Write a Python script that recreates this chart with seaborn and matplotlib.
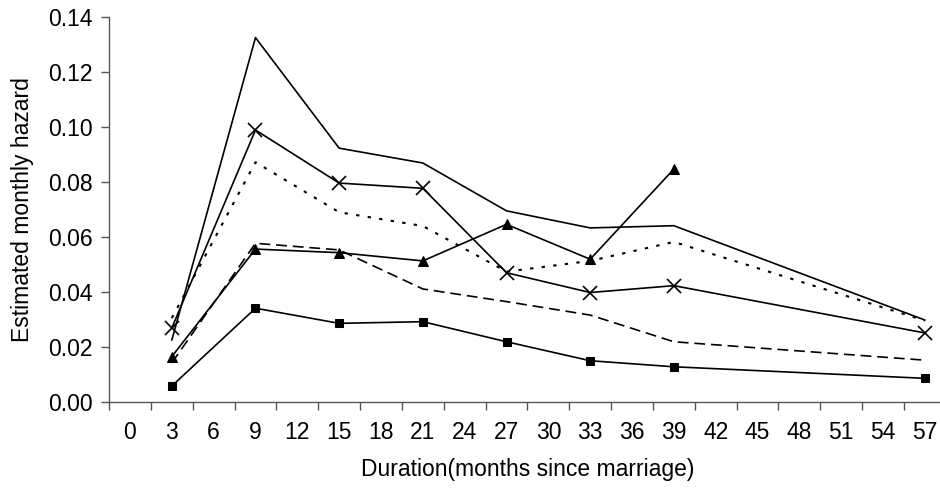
import matplotlib
matplotlib.use("Agg")
import matplotlib.pyplot as plt
import numpy as np
import pandas as pd
import seaborn as sns

# Duration (months since marriage) at which hazards were estimated
months = [3, 9, 15, 21, 27, 33, 39, 57]
months_short = [3, 9, 15, 21, 27, 33, 39]

# Estimated monthly hazard for each group
hazard_plain = [0.0225, 0.1325, 0.0923, 0.0869, 0.0695, 0.0633, 0.0641, 0.0298]
hazard_cross = [0.0269, 0.0989, 0.0796, 0.0777, 0.0470, 0.0398, 0.0423, 0.0251]
hazard_dotted = [0.0305, 0.0872, 0.0690, 0.0640, 0.0474, 0.0513, 0.0582, 0.0296]
hazard_triangle = [0.0165, 0.0556, 0.0543, 0.0513, 0.0646, 0.0519, 0.0847]
hazard_dashed = [0.0142, 0.0577, 0.0553, 0.0411, 0.0365, 0.0316, 0.0219, 0.0152]
hazard_square = [0.0058, 0.0341, 0.0286, 0.0292, 0.0219, 0.0150, 0.0128, 0.0086]

x_ticks = list(range(0, 58, 3))
y_ticks = [0.00, 0.02, 0.04, 0.06, 0.08, 0.10, 0.12, 0.14]

sns.set_theme(style="white")
plt.rcParams["font.family"] = ["Liberation Sans", "DejaVu Sans"]

fig = plt.figure(figsize=(9.40, 4.91), dpi=100)
ax = fig.add_axes([0.1160, 0.1813, 0.8902, 0.7841])

lw = 1.2
series = [
    (months, hazard_plain, dict(linestyle="-")),
    (months, hazard_cross, dict(linestyle="-", marker="x", markersize=10, markeredgewidth=1.2)),
    (months, hazard_dotted, dict(linestyle=(0, (1.6, 4.0)), linewidth=1.5)),
    (months_short, hazard_triangle, dict(linestyle="-", marker="^", markersize=6.5)),
    (months, hazard_dashed, dict(linestyle=(0, (6.5, 3.5)))),
    (months, hazard_square, dict(linestyle="-", marker="s", markersize=5.5)),
]
for xs, ys, style in series:
    df = pd.DataFrame({"month": xs, "hazard": ys})
    kws = dict(linewidth=lw)
    kws.update(style)
    sns.lineplot(data=df, x="month", y="hazard", ax=ax, color="black",
                 markeredgecolor="black", **kws)

ax.set_xlim(-1.5, 58.5)
ax.set_ylim(0, 0.14)
ax.set_xticks(x_ticks)
ax.set_xticklabels([str(t) for t in x_ticks])
ax.set_xticks(np.arange(-1.5, 57, 3), minor=True)
ax.set_yticks(y_ticks)
ax.set_yticklabels([f"{v:.2f}" for v in y_ticks])

ax.tick_params(axis="x", which="major", length=0, pad=14, labelsize=16.5, colors="black")
ax.tick_params(axis="x", which="minor", length=6, width=1, color="#555555", direction="out", bottom=True)
ax.tick_params(axis="y", length=6, width=1, color="#555555", direction="out", left=True,
               pad=6, labelsize=16.5, labelcolor="black")

for side in ("top", "right"):
    ax.spines[side].set_visible(False)
for side in ("left", "bottom"):
    ax.spines[side].set_color("#555555")
    ax.spines[side].set_linewidth(1)

ax.set_xlabel("Duration(months since marriage)", fontsize=16.5, labelpad=10, color="black")
ax.set_ylabel("Estimated monthly hazard", fontsize=16.5, labelpad=10, color="black")
ax.grid(False)

fig.savefig("out.png", dpi=100, facecolor="white")
